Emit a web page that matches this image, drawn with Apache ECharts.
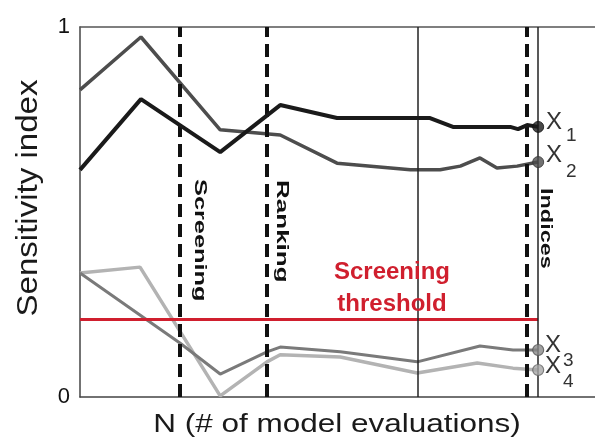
<!DOCTYPE html>
<html>
<head>
<meta charset="utf-8">
<script src="https://cdn.jsdelivr.net/npm/echarts@6/dist/echarts.min.js"></script>
<style>
html,body{margin:0;padding:0;background:#fff;}
#chart{width:595px;height:441px;}
</style>
</head>
<body>
<div id="chart"></div>
<script>
// N positions (arbitrary units, 100 = final run) and sensitivity values
const nX1 = [0, 13.3, 30.6, 43.7, 56.1, 76.4, 81.4, 93.9, 95.6, 97.6, 100];
const sX1 = [0.614, 0.805, 0.662, 0.789, 0.754, 0.754, 0.730, 0.730, 0.724, 0.735, 0.730];
const nX2 = [0, 13.3, 30.6, 43.7, 56.1, 72.1, 78.6, 83.0, 87.3, 91.0, 95.4, 100];
const sX2 = [0.830, 0.973, 0.722, 0.708, 0.632, 0.614, 0.614, 0.624, 0.646, 0.619, 0.624, 0.635];
const nX3 = [0, 21.8, 30.6, 40.8, 43.7, 56.8, 73.6, 87.3, 94.5, 100];
const sX3 = [0.335, 0.146, 0.062, 0.122, 0.135, 0.122, 0.095, 0.138, 0.127, 0.127];
const nX4 = [0, 13.1, 30.6, 40.8, 43.7, 56.8, 73.6, 86.7, 94.5, 100];
const sX4 = [0.335, 0.351, 0.003, 0.095, 0.114, 0.108, 0.065, 0.092, 0.078, 0.073];
const threshold = 0.21;
const thresholdEnd = 100;
const dashedAt = [21.8, 40.8, 97.4];
const solidAt = [73.8, 100];
const xMax = 112.4;
const yTicks = [0, 1];
const phaseLabels = ['Screening', 'Ranking', 'Indices'];

const FONT = '"Liberation Sans", Arial, Helvetica, sans-serif';
const zip = (xs, ys) => xs.map((x, i) => [x, ys[i]]);
const last = (xs, ys) => [xs[xs.length - 1], ys[ys.length - 1]];

const chart = echarts.init(document.getElementById('chart'), null, {renderer: 'canvas'});

function lineSeries(name, xs, ys, color, width, z) {
  return {
    name, type: 'line', data: zip(xs, ys), symbol: 'none', smooth: false,
    lineStyle: {color, width}, z, silent: true, animation: false
  };
}

const vLines = [];
dashedAt.forEach(x => vLines.push([{coord: [x, 0], lineStyle: {type: [13, 7], width: 4, color: '#111'}}, {coord: [x, 1]}]));
solidAt.forEach(x => vLines.push([{coord: [x, 0], lineStyle: {type: 'solid', width: 1.5, color: '#222'}}, {coord: [x, 1]}]));

function txt(text, x, y, size, opts) {
  opts = opts || {};
  return {
    type: 'text', x, y, rotation: opts.rotation || 0,
    scaleX: opts.scaleX || 1, scaleY: opts.scaleY || 1, z: 100,
    style: {
      text, fill: opts.color || '#222',
      font: (opts.bold ? 'bold ' : '') + size + 'px ' + FONT,
      align: opts.align || 'left', verticalAlign: opts.va || 'middle'
    }
  };
}

const option = {
  animation: false,
  grid: {left: 80, right: 0, top: 27, bottom: 44},
  xAxis: [
    {type: 'value', min: 0, max: xMax, position: 'bottom',
     axisLine: {show: true, lineStyle: {color: '#444', width: 1.5}},
     axisTick: {show: false}, axisLabel: {show: false}, splitLine: {show: false}},
    {type: 'value', min: 0, max: xMax, position: 'top',
     axisLine: {show: true, onZero: false, lineStyle: {color: '#555', width: 1.5}},
     axisTick: {show: false}, axisLabel: {show: false}, splitLine: {show: false}}
  ],
  yAxis: {
    type: 'value', min: yTicks[0], max: yTicks[1], interval: 1,
    axisLine: {show: true, lineStyle: {color: '#444', width: 1.5}},
    axisTick: {show: false}, splitLine: {show: false},
    axisLabel: {fontSize: 22, color: '#111', fontFamily: FONT, margin: 10}
  },
  series: [
    lineSeries('X4', nX4, sX4, '#b3b3b3', 3.5, 2),
    lineSeries('X3', nX3, sX3, '#7a7a7a', 3, 3),
    lineSeries('X2', nX2, sX2, '#4d4d4d', 3.5, 4),
    lineSeries('X1', nX1, sX1, '#1a1a1a', 4, 5),
    {
      type: 'line', data: [], z: 6, silent: true,
      markLine: {
        silent: true, symbol: 'none', label: {show: false}, animation: false,
        lineStyle: {color: '#d01f2e', width: 3, type: 'solid'},
        data: [[{coord: [0, threshold]}, {coord: [thresholdEnd, threshold]}]]
      }
    },
    {
      type: 'line', data: [], z: 7, silent: true,
      markLine: {
        silent: true, symbol: 'none', label: {show: false}, animation: false,
        data: vLines
      }
    },
    {
      type: 'scatter', z: 8, silent: true, symbolSize: 11,
      data: [
        {value: last(nX1, sX1), itemStyle: {color: '#1a1a1a', borderColor: '#111', borderWidth: 1}},
        {value: last(nX2, sX2), itemStyle: {color: '#4d4d4d', borderColor: '#333', borderWidth: 1}},
        {value: last(nX3, sX3), itemStyle: {color: '#8a8a8a', borderColor: '#555', borderWidth: 1.2}},
        {value: last(nX4, sX4), itemStyle: {color: '#a8a8a8', borderColor: '#666', borderWidth: 1.2}}
      ]
    }
  ],
  graphic: [
    txt('Sensitivity index', 29, 198, 29, {rotation: Math.PI / 2, align: 'center', scaleX: 1.14, color: '#1a1a1a'}),
    txt('N (# of model evaluations)', 337, 425, 25, {align: 'center', scaleX: 1.26, color: '#1a1a1a'}),
    txt(phaseLabels[0], 200, 179, 17, {rotation: -Math.PI / 2, bold: true, scaleX: 1.49, color: '#111'}),
    txt(phaseLabels[1], 282, 180, 17, {rotation: -Math.PI / 2, bold: true, scaleX: 1.53, color: '#111'}),
    txt(phaseLabels[2], 546, 188, 17, {rotation: -Math.PI / 2, bold: true, scaleX: 1.38, color: '#111'}),
    txt('Screening', 392, 272, 24, {align: 'center', bold: true, color: '#d01f2e'}),
    txt('threshold', 392, 304, 24, {align: 'center', bold: true, color: '#d01f2e'}),
    txt('X', 546, 122, 24, {color: '#333'}),
    txt('1', 566, 136, 19, {color: '#333'}),
    txt('X', 546, 155, 24, {color: '#333'}),
    txt('2', 566, 172, 19, {color: '#333'}),
    txt('X', 545, 345, 24, {color: '#333'}),
    txt('3', 563, 361, 19, {color: '#333'}),
    txt('X', 545, 366, 24, {color: '#333'}),
    txt('4', 563, 382, 19, {color: '#333'})
  ]
};
chart.setOption(option);
</script>
</body>
</html>
